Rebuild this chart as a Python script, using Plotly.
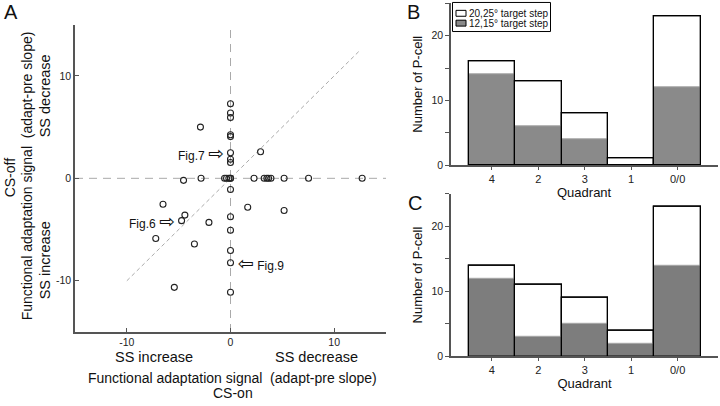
import plotly.graph_objects as go

# ---------------- Panel A data ----------------
a_x = [0, 0, 0, 0, 0, 0, 0, 0, 0, 0, 0, 0, 0, 0, 0, 0,
       -4.53, -2.84, -0.57, -0.38, -0.16, 2.27, 3.25, 3.51, 3.67, 3.9, 5.17, 7.53, 12.7,
       -6.51, 1.66, 5.17, -4.4, -4.72, -2.08, -7.21, -3.48, -5.42, 2.9, -2.9]
a_y = [7.28, 6.38, 5.93, 4.26, 4.07, 2.5, 1.86, 1.54, 0, 0, -1.09, -3.75, -5.07, -7.05, -8.24, -11.12,
       -0.2, 0, 0, 0, 0, 0, 0, 0, 0, 0, 0, 0, 0,
       -2.53, -2.82, -3.14, -3.59, -4.13, -4.3, -5.87, -6.41, -10.64, 2.6, 5.0]
a_range = [-15, 15]
a_ticks = [-15, -10, 0, 10, 15]
a_ticktext = ["", "-10", "0", "10", ""]
diag_x = [-10, 12.5]
diag_y = [-10, 12.5]
fig_labels = ["Fig.7", "Fig.6", "Fig.9"]
fig_pts_x = [0, -4.72, 0]
fig_pts_y = [2.5, -4.13, -8.24]

# ---------------- Panels B, C data ----------------
quadrants = ["4", "2", "3", "1", "0/0"]
b_total = [16, 13, 8, 1, 23]
b_gray = [14, 6, 4, 0, 12]
c_total = [14, 11, 9, 4, 23]
c_gray = [12, 3, 5, 2, 14]
bar_yticks = [0, 5, 10, 15, 20, 25]
bar_yticktext = ["0", "", "10", "", "20", ""]
legend_names = ["20,25\u00b0 target step", "12,15\u00b0 target step"]

FONT = "Liberation Sans, Arial, DejaVu Sans, sans-serif"
AXC = "#555555"
GRAY_B = "#8a8a8a"
GRAY_C = "#7d7d7d"

fig = go.Figure()

# reference lines in A
fig.add_trace(go.Scatter(x=a_range, y=[0, 0], mode="lines", xaxis="x", yaxis="y",
                         line=dict(color="#aaaaaa", width=1, dash="8px,6px"),
                         showlegend=False, hoverinfo="skip"))
fig.add_trace(go.Scatter(x=[0, 0], y=a_range, mode="lines", xaxis="x", yaxis="y",
                         line=dict(color="#aaaaaa", width=1, dash="8px,6px"),
                         showlegend=False, hoverinfo="skip"))
fig.add_trace(go.Scatter(x=diag_x, y=diag_y, mode="lines", xaxis="x", yaxis="y",
                         line=dict(color="#aaaaaa", width=1, dash="4px,3px"),
                         showlegend=False, hoverinfo="skip"))
fig.add_trace(go.Scatter(x=a_x, y=a_y, mode="markers", xaxis="x", yaxis="y",
                         marker=dict(symbol="circle-open", size=6, color="#222222",
                                     line=dict(width=1.1, color="#222222")),
                         showlegend=False))

def add_bars(total, gray, xa, ya, graycol):
    fig.add_trace(go.Bar(x=quadrants, y=total, xaxis=xa, yaxis=ya, width=1,
                         marker=dict(color="white", line=dict(color="black", width=1.2)),
                         name=legend_names[0], showlegend=False))
    fig.add_trace(go.Bar(x=quadrants, y=gray, xaxis=xa, yaxis=ya, width=1,
                         marker=dict(color=graycol, line=dict(color="#a8a8a8", width=1)),
                         name=legend_names[1], showlegend=False))
    fig.add_trace(go.Bar(x=quadrants, y=total, xaxis=xa, yaxis=ya, width=1,
                         marker=dict(color="rgba(0,0,0,0)", line=dict(color="black", width=1.2)),
                         showlegend=False, hoverinfo="skip"))

add_bars(b_total, b_gray, "x2", "y2", GRAY_B)
add_bars(c_total, c_gray, "x3", "y3", GRAY_C)

ax_common = dict(showgrid=False, zeroline=False, showline=True, linecolor=AXC, linewidth=1.5,
                 tickcolor=AXC, tickfont=dict(size=10.5, color="#222", family=FONT))

bar_x = dict(ax_common, range=[-0.88, 4.87], ticks="outside", ticklen=3, type="category",
             tickfont=dict(size=11, color="#222", family=FONT))
bar_y = dict(ax_common, range=[0, 25], tickvals=bar_yticks, ticktext=bar_yticktext,
             ticks="outside", ticklen=4)

fig.update_layout(
    width=720, height=406, margin=dict(l=0, r=0, t=0, b=0),
    paper_bgcolor="white", plot_bgcolor="white",
    font=dict(family=FONT, color="#111"),
    barmode="overlay", bargap=0, showlegend=False,
    xaxis=dict(ax_common, domain=[75/720, 386/720], range=a_range, tickvals=a_ticks,
               ticktext=a_ticktext, ticks="inside", ticklen=4, anchor="y"),
    yaxis=dict(ax_common, domain=[69/406, 381/406], range=a_range, tickvals=a_ticks,
               ticktext=a_ticktext, ticks="inside", ticklen=4, anchor="x"),
    xaxis2=dict(bar_x, domain=[451/720, 718/720], anchor="y2"),
    yaxis2=dict(bar_y, domain=[238.3/406, 402.7/406], anchor="x2",
                title=dict(text="Number of P-cell", font=dict(size=13), standoff=6)),
    xaxis3=dict(bar_x, domain=[451/720, 718/720], anchor="y3",
                title=dict(text="Quadrant", font=dict(size=13), standoff=2)),
    yaxis3=dict(bar_y, domain=[44.3/406, 209.3/406], anchor="x3",
                title=dict(text="Number of P-cell", font=dict(size=13), standoff=6)),
)

def px(x):
    return x / 720
def py(y):
    return 1 - y / 406

# custom legend (box + keys) in panel B
shapes = [
    dict(type="rect", xref="paper", yref="paper", x0=px(452.5), x1=px(550.5), y0=py(2.5), y1=py(32),
         line=dict(color="black", width=1), fillcolor="white", layer="above"),
    dict(type="rect", xref="paper", yref="paper", x0=px(456), x1=px(466), y0=py(10.5), y1=py(16.5),
         line=dict(color="black", width=1), fillcolor="white", layer="above"),
    dict(type="rect", xref="paper", yref="paper", x0=px(456), x1=px(466), y0=py(20.5), y1=py(26.5),
         line=dict(color="black", width=1), fillcolor=GRAY_B, layer="above"),
]
fig.update_layout(shapes=shapes)

ann = []
for i, yc in enumerate([13.3, 24.2]):
    ann.append(dict(text=legend_names[i], x=px(467), y=py(yc), xref="paper", yref="paper",
                    showarrow=False, xanchor="left", yanchor="middle",
                    font=dict(size=10, color="#111")))
# Panel letters
for t, x, y in [("A", 11, 12), ("B", 414, 12), ("C", 415, 206)]:
    ann.append(dict(text=t, x=px(x), y=py(y), xref="paper", yref="paper",
                    showarrow=False, font=dict(size=20, color="#111"),
                    xanchor="center", yanchor="middle"))
# Quadrant title for B
ann.append(dict(text="Quadrant", x=px(584.5), y=py(195.5), xref="paper", yref="paper",
                showarrow=False, font=dict(size=13), xanchor="center", yanchor="middle"))
# Panel A axis titles
ann.append(dict(text="CS-off", x=px(10), y=py(180), xref="paper", yref="paper",
                showarrow=False, textangle=-90, font=dict(size=14),
                xanchor="center", yanchor="middle"))
ann.append(dict(text="Functional adaptation signal\u00a0 (adapt-pre slope)", x=px(27), y=py(179),
                xref="paper", yref="paper", showarrow=False, textangle=-90, font=dict(size=14),
                xanchor="center", yanchor="middle"))
ann.append(dict(text="SS decrease", x=px(45), y=8, xref="paper", yref="y",
                showarrow=False, textangle=-90, font=dict(size=14.5),
                xanchor="center", yanchor="middle"))
ann.append(dict(text="SS increase", x=px(45), y=-8, xref="paper", yref="y",
                showarrow=False, textangle=-90, font=dict(size=14.5),
                xanchor="center", yanchor="middle"))
ann.append(dict(text="SS increase", x=-7.4, y=py(362.7), xref="x", yref="paper",
                showarrow=False, font=dict(size=14.5), xanchor="center", yanchor="middle"))
ann.append(dict(text="SS decrease", x=8.3, y=py(362.7), xref="x", yref="paper",
                showarrow=False, font=dict(size=14.5), xanchor="center", yanchor="middle"))
ann.append(dict(text="Functional adaptation signal\u00a0 (adapt-pre slope)", x=px(232), y=py(384),
                xref="paper", yref="paper", showarrow=False, font=dict(size=14),
                xanchor="center", yanchor="middle"))
ann.append(dict(text="CS-on", x=px(233), y=py(398.5), xref="paper", yref="paper",
                showarrow=False, font=dict(size=14), xanchor="center", yanchor="middle"))
# Fig callouts with hollow arrows
ARW = "<span style='font-size:19px;font-family:DejaVu Sans'>%s</span>"
ann.append(dict(text=fig_labels[0] + " " + ARW % "\u21e8", x=fig_pts_x[0], y=fig_pts_y[0],
                xref="x", yref="y", showarrow=False, xanchor="right", yanchor="middle",
                xshift=-5, font=dict(size=12)))
ann.append(dict(text=fig_labels[1] + " " + ARW % "\u21e8", x=fig_pts_x[1], y=fig_pts_y[1],
                xref="x", yref="y", showarrow=False, xanchor="right", yanchor="middle",
                xshift=-5, font=dict(size=12)))
ann.append(dict(text=ARW % "\u21e6" + " " + fig_labels[2], x=fig_pts_x[2], y=fig_pts_y[2],
                xref="x", yref="y", showarrow=False, xanchor="left", yanchor="middle",
                xshift=5, font=dict(size=12)))
fig.update_layout(annotations=ann)

fig.write_html("out.html", config={"displayModeBar": False},
               post_script="document.body.style.margin='0';document.body.style.padding='0';")
